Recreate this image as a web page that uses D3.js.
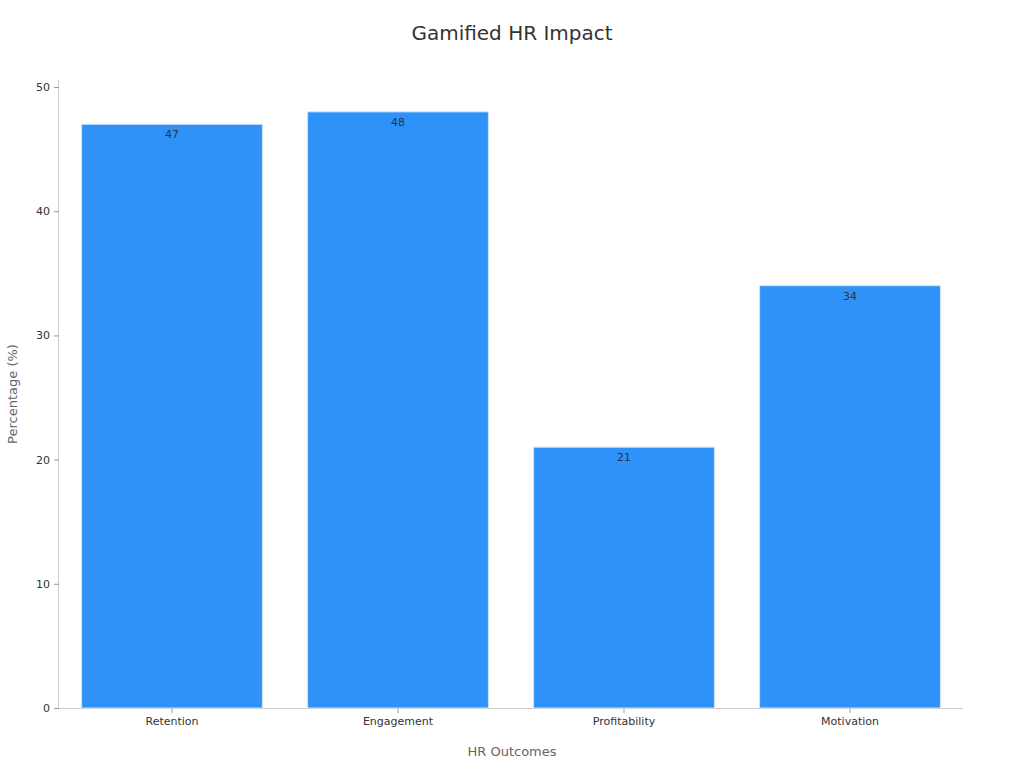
<!DOCTYPE html>
<html><head><meta charset="utf-8">
<script src="https://cdn.jsdelivr.net/npm/d3@7"></script>
<style>body{margin:0;background:#fff;font-family:"DejaVu Sans",sans-serif;}</style>
</head><body><svg id="c" width="1024" height="768"></svg>
<script>
const categories=["Retention","Engagement","Profitability","Motivation"];
const values=[47,48,21,34];
const yTicks=[0,10,20,30,40,50];
const svg=d3.select("#c");
const m={l:59,r:963,t:87,b:708};
const x=d3.scaleBand().domain(categories).range([m.l,m.r]).paddingInner(0.2).paddingOuter(0.1);
const y=d3.scaleLinear().domain([0,50]).range([m.b,m.t]);
svg.append("text").attr("x",512).attr("y",40).attr("text-anchor","middle").attr("font-size",20).attr("fill","#333").text("Gamified HR Impact");
const ya=svg.append("g").attr("transform",`translate(${m.l},0)`).call(d3.axisLeft(y).tickValues(yTicks).tickSize(5).tickPadding(4));
ya.select(".domain").attr("stroke","#ccc").attr("d",`M-0.5,${m.b}V80`);
ya.selectAll(".tick line").attr("stroke","#999");
ya.selectAll("text").attr("font-size",11).attr("fill","#333").attr("font-family","DejaVu Sans");
const xa=svg.append("g").attr("transform",`translate(0,${m.b})`).call(d3.axisBottom(x).tickSize(5).tickPadding(4));
xa.select(".domain").attr("stroke","#ccc").attr("d",`M${m.l},0.5H${m.r}`);
xa.selectAll(".tick line").attr("stroke","#999");
xa.selectAll("text").attr("font-size",11).attr("fill","#333").attr("font-family","DejaVu Sans");
svg.selectAll("rect.b").data(values).enter().append("rect").attr("class","b")
 .attr("x",(d,i)=>x(categories[i])).attr("y",d=>y(d)).attr("width",x.bandwidth()).attr("height",d=>y(0)-y(d))
 .attr("fill","#2e92f8").attr("stroke","#d0e4fb").attr("stroke-width",1);
svg.selectAll("text.v").data(values).enter().append("text").attr("class","v")
 .attr("x",(d,i)=>x(categories[i])+x.bandwidth()/2).attr("y",d=>y(d)+14).attr("text-anchor","middle")
 .attr("font-size",11).attr("fill","#333").text(d=>d);
svg.append("text").attr("x",512).attr("y",756).attr("text-anchor","middle").attr("font-size",13).attr("fill","#666").text("HR Outcomes");
svg.append("text").attr("transform","translate(17,394) rotate(-90)").attr("text-anchor","middle").attr("font-size",13).attr("fill","#666").text("Percentage (%)");
</script></body></html>
